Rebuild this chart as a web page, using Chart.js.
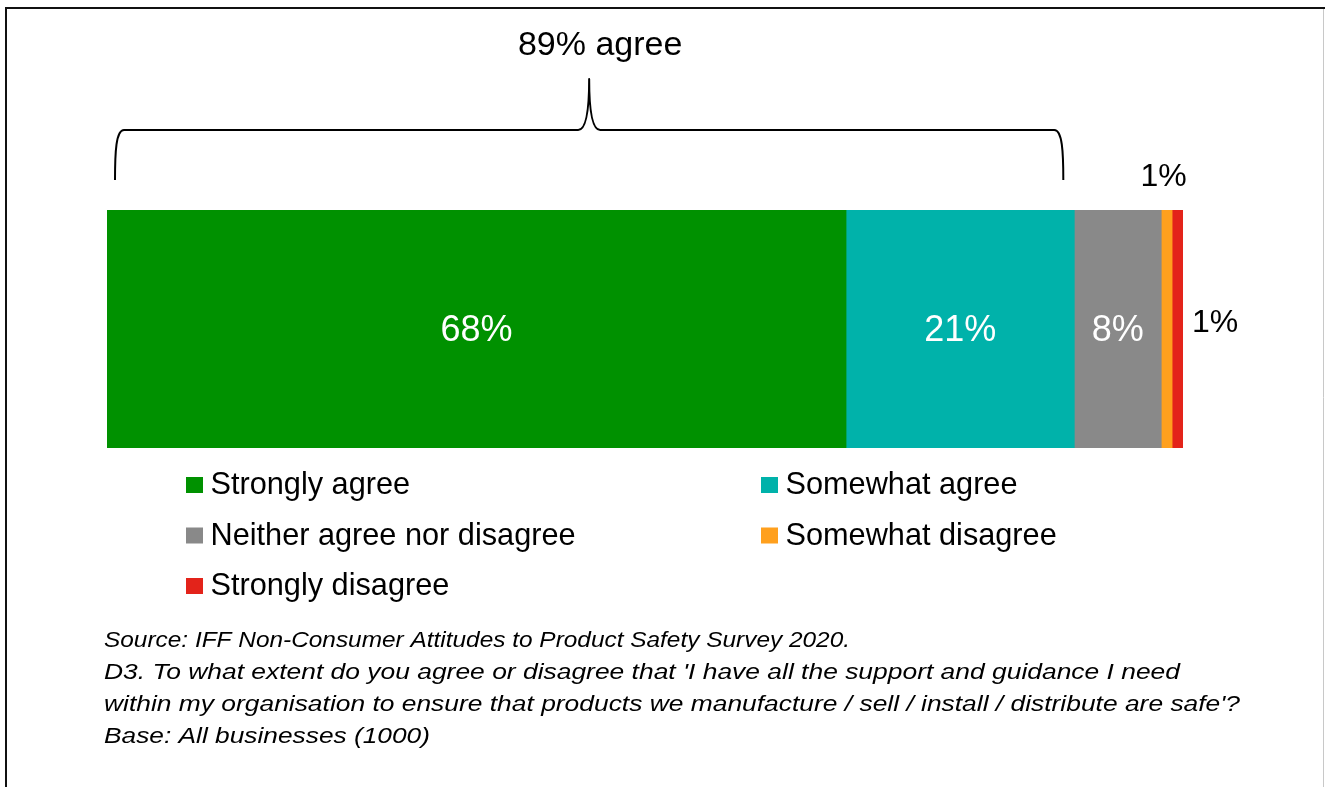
<!DOCTYPE html>
<html>
<head>
<meta charset="utf-8">
<title>Support and guidance for product safety</title>
<script src="https://cdn.jsdelivr.net/npm/chart.js@4/dist/chart.umd.min.js"></script>
<style>
  html, body { margin: 0; padding: 0; background: #ffffff; }
  canvas { display: block; }
</style>
</head>
<body>
<canvas id="chart" width="1325" height="787"></canvas>
<script>
// Survey answers: one stacked bar, share of businesses per answer (%)
const categories = ['D3'];
const seriesNames = [
  'Strongly agree',
  'Somewhat agree',
  'Neither agree nor disagree',
  'Somewhat disagree',
  'Strongly disagree'
];
const seriesValues = [68, 21, 8, 1, 1];
const seriesColors = ['#009100', '#00B2AA', '#898989', '#FFA01E', '#E3231A'];
const agreeGroup = [0, 1];            // answers summed under the brace
const axisMax = 99;                   // sum of the rounded shares
const footnoteLines = [
  'Source: IFF Non-Consumer Attitudes to Product Safety Survey 2020.',
  "D3. To what extent do you agree or disagree that 'I have all the support and guidance I need",
  "within my organisation to ensure that products we manufacture / sell / install / distribute are safe'?",
  'Base: All businesses (1000)'
];

const FONT = '"Liberation Sans", Arial, Helvetica, sans-serif';
const footnoteWidths = [746, 1076, 1136, 326];

const datasets = seriesNames.map((name, i) => ({
  label: name,
  data: [seriesValues[i]],
  backgroundColor: seriesColors[i],
  borderWidth: 0,
  barPercentage: 1,
  categoryPercentage: 1
}));

// Outer frame of the figure
const framePlugin = {
  id: 'frame',
  beforeDraw(chart) {
    const ctx = chart.ctx;
    ctx.save();
    ctx.fillStyle = '#ffffff';
    ctx.fillRect(0, 0, chart.width, chart.height);
    ctx.strokeStyle = '#c8c8c8';
    ctx.lineWidth = 1;
    ctx.beginPath();
    ctx.moveTo(1323.5, 8);
    ctx.lineTo(1323.5, chart.height);
    ctx.stroke();
    ctx.strokeStyle = '#111111';
    ctx.lineWidth = 2;
    ctx.beginPath();
    ctx.moveTo(6, chart.height);
    ctx.lineTo(6, 8);
    ctx.lineTo(chart.width, 8);
    ctx.stroke();
    ctx.restore();
  }
};

// Value labels on and beside the bar segments
const valueLabelPlugin = {
  id: 'valueLabels',
  afterDatasetsDraw(chart) {
    const ctx = chart.ctx;
    ctx.save();
    ctx.textBaseline = 'middle';
    let smallCount = 0;
    chart.data.datasets.forEach((ds, i) => {
      const bar = chart.getDatasetMeta(i).data[0];
      if (!bar) return;
      const v = ds.data[0];
      const text = v + '%';
      const left = Math.min(bar.x, bar.base);
      const right = Math.max(bar.x, bar.base);
      const cx = (left + right) / 2;
      if (right - left > 60) {
        ctx.font = '36px ' + FONT;
        ctx.fillStyle = '#ffffff';
        ctx.textAlign = 'center';
        ctx.fillText(text, cx, bar.y + 2);
      } else {
        ctx.font = '32px ' + FONT;
        ctx.fillStyle = '#000000';
        if (smallCount % 2 === 0) {
          ctx.textAlign = 'center';
          ctx.fillText(text, cx - 3, bar.y - bar.height / 2 - 33);
        } else {
          ctx.textAlign = 'left';
          ctx.fillText(text, right + 9, bar.y - 6);
        }
        smallCount++;
      }
    });
    ctx.restore();
  }
};

// Curly brace and total over the agree answers
const bracePlugin = {
  id: 'agreeBrace',
  afterDatasetsDraw(chart) {
    const ctx = chart.ctx;
    const xs = chart.scales.x;
    const total = agreeGroup.reduce((s, i) => s + seriesValues[i], 0);
    const x0 = xs.getPixelForValue(0) + 8;
    const x1 = xs.getPixelForValue(total) - 11;
    const yEnd = chart.chartArea.top - 30;
    const yLine = chart.chartArea.top - 80;
    const yTip = chart.chartArea.top - 131;
    const xm = (x0 + x1) / 2;
    ctx.save();
    ctx.strokeStyle = '#000000';
    ctx.lineWidth = 2;
    ctx.lineJoin = 'round';
    ctx.beginPath();
    ctx.moveTo(x0, yEnd);
    ctx.bezierCurveTo(x0, yLine + 22, x0 + 1, yLine, x0 + 9, yLine);
    ctx.lineTo(xm - 11, yLine);
    ctx.quadraticCurveTo(xm, yLine, xm, yTip);
    ctx.quadraticCurveTo(xm, yLine, xm + 11, yLine);
    ctx.lineTo(x1 - 9, yLine);
    ctx.bezierCurveTo(x1 - 1, yLine, x1, yLine + 22, x1, yEnd);
    ctx.stroke();

    ctx.fillStyle = '#000000';
    ctx.font = '34px ' + FONT;
    ctx.textAlign = 'center';
    ctx.textBaseline = 'middle';
    ctx.fillText(total + '% agree', xm + 11, chart.chartArea.top - 164);
    ctx.restore();
  }
};

// Two-column legend under the bar
const gridLegendPlugin = {
  id: 'gridLegend',
  afterDraw(chart) {
    const ctx = chart.ctx;
    const colX = [186, 761];
    const rowY0 = chart.chartArea.bottom + 37;
    const rowGap = 50.5;
    ctx.save();
    ctx.font = '30.7px ' + FONT;
    ctx.textAlign = 'left';
    ctx.textBaseline = 'middle';
    chart.data.datasets.forEach((ds, i) => {
      const x = colX[i % 2];
      const y = rowY0 + Math.floor(i / 2) * rowGap;
      ctx.fillStyle = ds.backgroundColor;
      ctx.fillRect(x, y - 8, 17, 16);
      ctx.fillStyle = '#000000';
      ctx.fillText(ds.label, x + 24.5, y + 1);
    });
    ctx.restore();
  }
};

// Source and question text in italics
const footnotePlugin = {
  id: 'footnote',
  afterDraw(chart) {
    const ctx = chart.ctx;
    ctx.save();
    ctx.font = 'italic 22.5px ' + FONT;
    ctx.fillStyle = '#000000';
    ctx.textAlign = 'left';
    ctx.textBaseline = 'middle';
    footnoteLines.forEach((line, i) => {
      const w = ctx.measureText(line).width;
      const sx = footnoteWidths[i] / w;
      const y = 641 + i * 32;
      ctx.save();
      ctx.translate(104, y);
      ctx.scale(sx, 1);
      ctx.fillText(line, 0, 0);
      ctx.restore();
    });
    ctx.restore();
  }
};

new Chart(document.getElementById('chart'), {
  type: 'bar',
  data: { labels: categories, datasets },
  options: {
    indexAxis: 'y',
    responsive: false,
    animation: false,
    devicePixelRatio: 1,
    layout: { padding: { left: 107, right: 142, top: 210, bottom: 339 } },
    scales: {
      x: { stacked: true, min: 0, max: axisMax, display: false },
      y: { stacked: true, display: false }
    },
    plugins: {
      legend: { display: false },
      tooltip: { enabled: false }
    }
  },
  plugins: [framePlugin, valueLabelPlugin, bracePlugin, gridLegendPlugin, footnotePlugin]
});
</script>
</body>
</html>
